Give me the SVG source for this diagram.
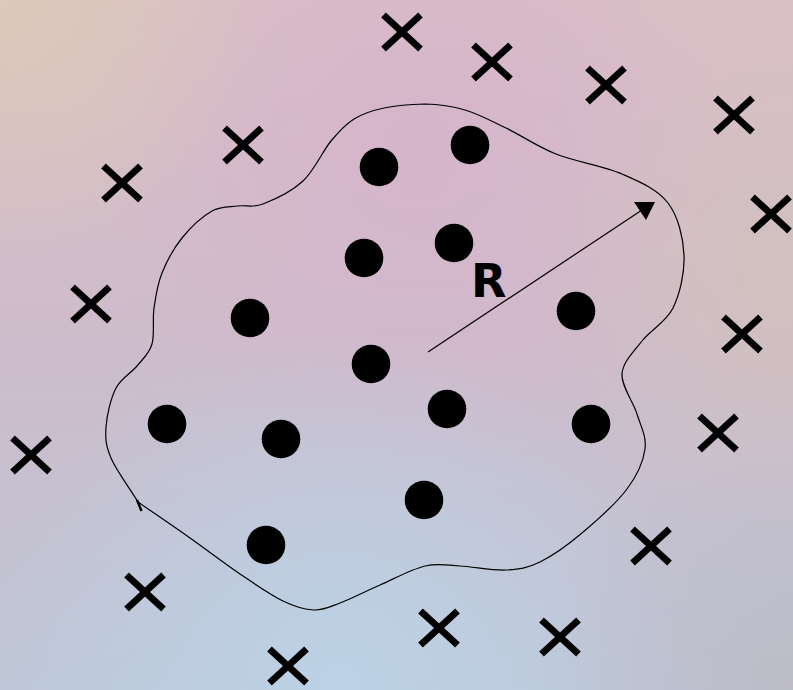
<svg xmlns="http://www.w3.org/2000/svg" width="793" height="690" viewBox="0 0 793 690">
<defs>
<linearGradient id="bg" x1="0" y1="0" x2="0" y2="1">
<stop offset="0" stop-color="#dac0c4"/>
<stop offset="0.5" stop-color="#cdbccb"/>
<stop offset="1" stop-color="#bec6d6"/>
</linearGradient>
<radialGradient id="pink" gradientUnits="userSpaceOnUse" cx="420" cy="150" r="330">
<stop offset="0" stop-color="#d6b3cc" stop-opacity="0.85"/>
<stop offset="1" stop-color="#d6b3cc" stop-opacity="0"/>
</radialGradient>
<radialGradient id="blue" gradientUnits="userSpaceOnUse" cx="340" cy="690" r="360">
<stop offset="0" stop-color="#bcd2e6" stop-opacity="1"/>
<stop offset="1" stop-color="#bcd2e6" stop-opacity="0"/>
</radialGradient>
<radialGradient id="beige" gradientUnits="userSpaceOnUse" cx="0" cy="0" r="260">
<stop offset="0" stop-color="#dccab9" stop-opacity="0.95"/>
<stop offset="1" stop-color="#dccab9" stop-opacity="0"/>
</radialGradient>
<radialGradient id="beige2" gradientUnits="userSpaceOnUse" cx="793" cy="280" r="260">
<stop offset="0" stop-color="#d3c2bc" stop-opacity="0.8"/>
<stop offset="1" stop-color="#d3c2bc" stop-opacity="0"/>
</radialGradient>
<radialGradient id="grey" gradientUnits="userSpaceOnUse" cx="793" cy="690" r="260">
<stop offset="0" stop-color="#bdbbc7" stop-opacity="0.9"/>
<stop offset="1" stop-color="#bdbbc7" stop-opacity="0"/>
</radialGradient>
<style>
.dot{fill:#000}
.x{stroke:#000;stroke-width:6.8;stroke-linecap:butt;fill:none}
.blob{fill:none;stroke:#000;stroke-width:1.2}
.r{font-family:"DejaVu Sans",sans-serif;font-weight:bold;font-size:46px;fill:#000}
</style>
<g id="cross"><line class="x" x1="-18.5" y1="-17" x2="18.5" y2="17"/><line class="x" x1="-18.5" y1="17" x2="18.5" y2="-17"/></g>
</defs>
<rect width="793" height="690" fill="url(#bg)"/>
<rect width="793" height="690" fill="url(#pink)"/>
<rect width="793" height="690" fill="url(#blue)"/>
<rect width="793" height="690" fill="url(#beige)"/>
<rect width="793" height="690" fill="url(#beige2)"/>
<rect width="793" height="690" fill="url(#grey)"/>

<g id="connectors">
<path class="blob" d="M138 502 C129 487 116.3 470.5 111 458 C105.7 445.5 105.2 438.7 106 427 C106.8 415.3 110.8 398.2 116 388 C121.2 377.8 131 373.3 137 366 C143 358.7 149.2 353.7 152 344 C154.8 334.3 152.3 319.8 154 308 C155.7 296.2 157.3 284.7 162 273 C166.7 261.3 173.7 248.3 182 238 C190.3 227.7 202.7 216.3 212 211 C221.3 205.7 229.5 207.2 238 206 C246.5 204.8 252.2 208.2 263 204 C273.8 199.8 291.7 191.5 303 181 C314.3 170.5 322.5 151.3 331 141 C339.5 130.7 345.2 124.5 354 119 C362.8 113.5 372.2 110.5 384 108 C395.8 105.5 411.5 104.3 425 104 C438.5 104.3 451.5 106 465 110 C478.5 114 490.8 120.7 506 128 C521.2 135.3 536.7 146.3 556 154 C575.3 161.7 603.3 165.8 622 174 C640.7 182.2 657.7 189.5 668 203 C678.3 216.5 683.2 237.5 684 255 C684.8 272.5 680 293.7 673 308 C666 322.3 650.5 330 642 341 C633.5 352 622.8 361.8 622 374 C621.2 386.2 633.2 401.5 637 414 C640.8 426.5 646.7 436.5 645 449 C643.3 461.5 637.5 475 627 489 C616.5 503 596.5 520.8 582 533 C567.5 545.2 552.7 555.8 540 562 C527.3 568.2 519.3 569.3 506 570 C492.7 570.7 473.5 566.7 460 566 C446.5 565.3 438.3 562.8 425 566 C411.7 569.2 394.2 578.8 380 585 C365.8 591.2 351 598.8 340 603 C329 607.2 323.5 610.3 314 610 C304.5 609.7 295.3 607 283 601 C270.7 595 255.5 584.5 240 574 C224.5 563.5 207 550 190 538 C173 526 155.3 514 138 502"/>
<line x1="137" y1="500" x2="141.5" y2="511" stroke="#000" stroke-width="2.4"/>
<line x1="428" y1="352" x2="642" y2="210" stroke="#000" stroke-width="1.2"/>
<polygon points="634,202 655,202 646,220" fill="#000"/>
</g>

<text class="r" x="471" y="297">R</text>

<g id="dots">
<circle id="d1" class="dot" cx="379" cy="167" r="19.3"/>
<circle id="d2" class="dot" cx="470" cy="145" r="19.3"/>
<circle id="d3" class="dot" cx="364" cy="258" r="19.3"/>
<circle id="d4" class="dot" cx="454" cy="243" r="19.3"/>
<circle id="d5" class="dot" cx="250" cy="318" r="19.3"/>
<circle id="d6" class="dot" cx="576" cy="311" r="19.3"/>
<circle id="d7" class="dot" cx="371" cy="364" r="19.3"/>
<circle id="d8" class="dot" cx="447" cy="409" r="19.3"/>
<circle id="d9" class="dot" cx="167" cy="424" r="19.3"/>
<circle id="d10" class="dot" cx="281" cy="439" r="19.3"/>
<circle id="d11" class="dot" cx="591" cy="424" r="19.3"/>
<circle id="d12" class="dot" cx="424" cy="500" r="19.3"/>
<circle id="d13" class="dot" cx="266" cy="545" r="19.3"/>
</g>

<g id="crosses">
<use id="x1" href="#cross" x="402" y="32"/>
<use id="x2" href="#cross" x="492" y="62"/>
<use id="x3" href="#cross" x="606" y="85"/>
<use id="x4" href="#cross" x="734" y="115"/>
<use id="x5" href="#cross" x="243" y="145"/>
<use id="x6" href="#cross" x="122" y="183"/>
<use id="x7" href="#cross" x="771" y="214"/>
<use id="x8" href="#cross" x="91" y="304"/>
<use id="x9" href="#cross" x="742" y="334"/>
<use id="x10" href="#cross" x="31" y="455"/>
<use id="x11" href="#cross" x="718" y="433"/>
<use id="x12" href="#cross" x="651" y="546"/>
<use id="x13" href="#cross" x="145" y="592"/>
<use id="x14" href="#cross" x="439" y="628"/>
<use id="x15" href="#cross" x="560" y="637"/>
<use id="x16" href="#cross" x="288" y="666"/>
</g>
</svg>
